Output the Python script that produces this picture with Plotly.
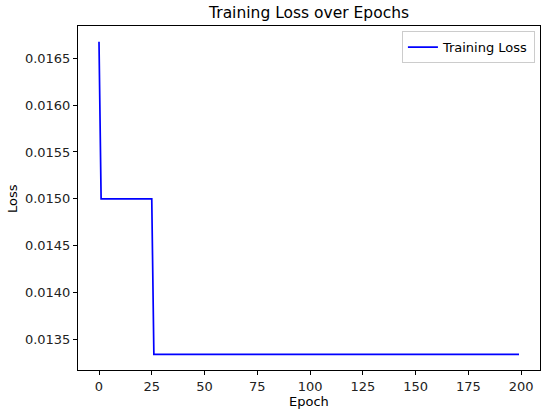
import plotly.graph_objects as go

# loss curve (breakpoints of a step-shaped curve)
epochs = [0, 1, 25, 26, 199]
loss = [0.016677, 0.01500, 0.01500, 0.01334, 0.01334]

x_ticks = [0, 25, 50, 75, 100, 125, 150, 175, 200]
y_ticks = [0.0135, 0.0140, 0.0145, 0.0150, 0.0155, 0.0160, 0.0165]

fnt = 'DejaVu Sans, Arial, sans-serif'

fig = go.Figure()
fig.add_trace(go.Scatter(x=epochs, y=loss, mode='lines', name='Training Loss',
                         line=dict(color='#0000ff', width=1.7)))

axis_style = dict(showline=True, linecolor='black', linewidth=1, mirror=True,
                  ticks='outside', ticklen=4, tickcolor='black', tickwidth=1,
                  showgrid=False, zeroline=False, automargin=False,
                  tickfont=dict(size=13, color='#222'))

fig.update_layout(
    width=550, height=417,
    margin=dict(l=78, r=10, t=26, b=47),
    plot_bgcolor='white', paper_bgcolor='white',
    font=dict(family=fnt, color='black', size=13),
    title=dict(text='Training Loss over Epochs', x=0.562, xanchor='center',
               y=0.971, yanchor='middle', font=dict(size=15.5, color='black')),
    xaxis=dict(axis_style, range=[-9.95, 208.95], tickvals=x_ticks),
    yaxis=dict(axis_style, range=[0.013173, 0.016844], tickvals=y_ticks,
               tickformat='.4f'),
    showlegend=True,
    legend=dict(x=0.989, y=0.985, xanchor='right', yanchor='top',
                bgcolor='rgba(255,255,255,0.8)', bordercolor='#cccccc',
                borderwidth=1, font=dict(size=13, color='black'),
                itemwidth=30, tracegroupgap=0),
)

# axis titles placed as annotations to keep the plot area fixed
fig.add_annotation(text='Epoch', xref='paper', yref='paper', x=0.5, y=-0.093,
                   xanchor='center', yanchor='middle', showarrow=False,
                   font=dict(size=13, color='black'))
fig.add_annotation(text='Loss', xref='paper', yref='paper', x=-0.143, y=0.5,
                   xanchor='center', yanchor='middle', showarrow=False,
                   textangle=-90, font=dict(size=13, color='black'))

# drop the default body margin so the figure sits at the page corner
fig.write_html("out.html", config={'displayModeBar': False},
               post_script="document.body.style.margin = '0';")
